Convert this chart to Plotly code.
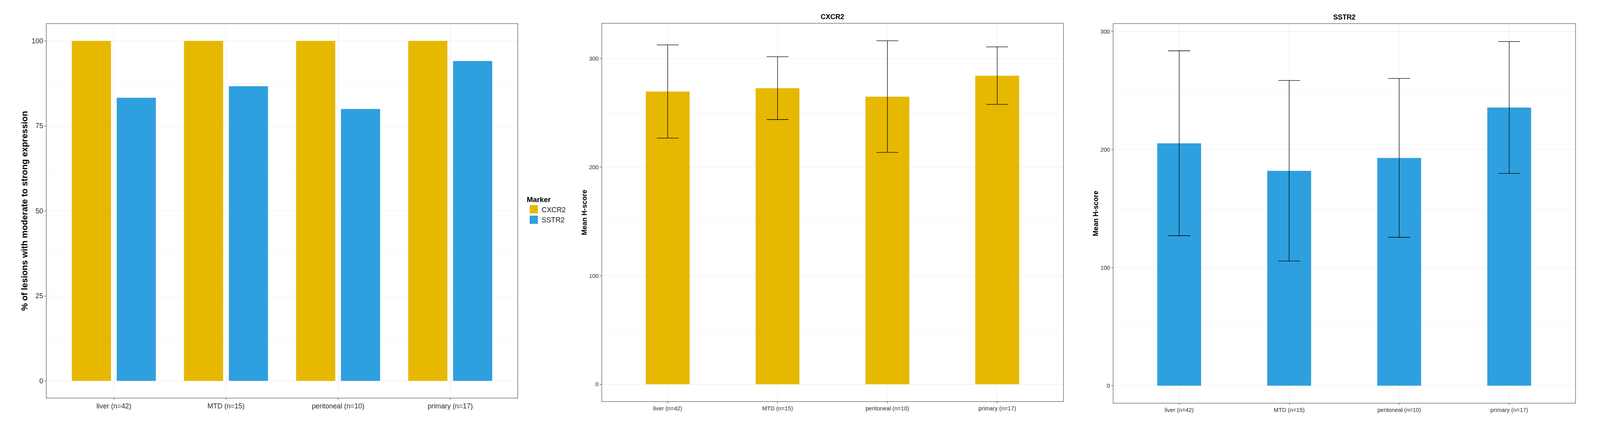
import plotly.graph_objects as go

# The photographed picture maps page CSS px to image px by ~1.0145, and the
# page body adds an 8px margin; positions below are given in picture px.
S = 1.0145
OFF = 8
W = round(4157 / S - OFF)
H = round(1136 / S - OFF)

categories = ["liver (n=42)", "MTD (n=15)", "peritoneal (n=10)", "primary (n=17)"]
markers = ["CXCR2", "SSTR2"]
pct_cxcr2 = [100, 100, 100, 100]
pct_sstr2 = [83.3, 86.7, 80.0, 94.1]
cxcr2_mean = [269.6, 272.7, 264.9, 284.2]
cxcr2_sd = [42.9, 28.9, 51.4, 26.5]
sstr2_mean = [205.4, 182.1, 193.0, 235.7]
sstr2_sd = [78.3, 76.5, 67.3, 55.8]

COL = {"CXCR2": "#E7B800", "SSTR2": "#2E9FDF"}
FONT = "Arial, Liberation Sans, sans-serif"
GRID = "#EBEBEB"
BORDER = "#333333"
TICKC = "#333333"


def c(p):
    return p / S - OFF


def fx(p):
    return c(p) / W


def fy(p):
    return 1 - c(p) / H


def px_x(a, b):
    return [fx(a), fx(b)]


def px_y(top, bottom):
    return [fy(bottom), fy(top)]


def fs(v):
    return v / S


fig = go.Figure()

fig.add_trace(go.Bar(x=categories, y=pct_cxcr2, name="CXCR2", marker_color=COL["CXCR2"],
                     width=0.35, offset=-0.375, showlegend=False, xaxis="x", yaxis="y"))
fig.add_trace(go.Bar(x=categories, y=pct_sstr2, name="SSTR2", marker_color=COL["SSTR2"],
                     width=0.35, offset=0.025, showlegend=False, xaxis="x", yaxis="y"))
for m in markers:
    fig.add_trace(go.Scatter(x=[None], y=[None], mode="markers", name=m,
                             marker=dict(symbol="square", size=16, color=COL[m],
                                         line=dict(color=COL[m], width=5)),
                             xaxis="x", yaxis="y", showlegend=True))

err = dict(type="data", color="black", thickness=1.3, width=fs(28.5))
fig.add_trace(go.Bar(x=categories, y=cxcr2_mean, marker_color=COL["CXCR2"], width=0.4,
                     error_y=dict(err, array=cxcr2_sd),
                     showlegend=False, xaxis="x2", yaxis="y2"))
fig.add_trace(go.Bar(x=categories, y=sstr2_mean, marker_color=COL["SSTR2"], width=0.4,
                     error_y=dict(err, array=sstr2_sd),
                     showlegend=False, xaxis="x3", yaxis="y3"))


def xax(domain, anchor, tsize):
    return dict(domain=domain, anchor=anchor, type="category", range=[-0.6, 3.6],
                showgrid=True, gridcolor=GRID, gridwidth=1.3,
                showline=True, linecolor=BORDER, linewidth=1.3, mirror=True,
                ticks="outside", ticklen=4, tickcolor=TICKC, tickwidth=1.3,
                tickfont=dict(size=fs(tsize), color="#333333", family=FONT),
                zeroline=False, fixedrange=True)


def yax(domain, anchor, rng, dtick, tsize):
    return dict(domain=domain, anchor=anchor, range=rng, dtick=dtick, tick0=0,
                showgrid=True, gridcolor=GRID, gridwidth=1.3,
                minor=dict(showgrid=True, gridcolor="#F3F3F3", gridwidth=1, dtick=dtick / 2, tick0=0),
                showline=True, linecolor=BORDER, linewidth=1.3, mirror=True,
                ticks="outside", ticklen=4, tickcolor=TICKC, tickwidth=1.3,
                tickfont=dict(size=fs(tsize), color="#333333", family=FONT),
                zeroline=False, fixedrange=True)


ax1x = xax(px_x(121, 1344), "y", 18)
ax2x = xax(px_x(1563, 2761), "y2", 15)
ax3x = xax(px_x(2891, 4091), "y3", 15)

ay1 = yax(px_y(62, 1033), "x", [-5, 105], 25, 18)
ay1["title"] = dict(text="<b>% of lesions with moderate to strong expression</b>",
                    font=dict(size=fs(22.5), color="black", family=FONT), standoff=4)
ay2 = yax(px_y(61, 1042), "x2", [-15.8, 332.2], 100, 15)
ay2["title"] = dict(text="<b>Mean H-score</b>", font=dict(size=fs(18), color="black", family=FONT), standoff=0)
ay3 = yax(px_y(62, 1046), "x3", [-14.6, 306.5], 100, 15)
ay3["title"] = dict(text="<b>Mean H-score</b>", font=dict(size=fs(18), color="black", family=FONT), standoff=0)

fig.update_layout(
    width=W, height=H,
    margin=dict(l=0, r=0, t=0, b=0),
    paper_bgcolor="white", plot_bgcolor="white",
    barmode="overlay",
    font=dict(family=FONT, color="black"),
    xaxis=ax1x, yaxis=ay1, xaxis2=ax2x, yaxis2=ay2, xaxis3=ax3x, yaxis3=ay3,
    legend=dict(x=fx(1366), y=fy(500), xanchor="left", yanchor="top",
                title=dict(text="<b>Marker</b>", font=dict(size=fs(19), color="black", family=FONT)),
                font=dict(size=fs(18.5), color="#222222", family=FONT),
                bgcolor="rgba(0,0,0,0)", tracegroupgap=0, itemwidth=30),
    annotations=[
        dict(text="<b>CXCR2</b>", x=fx((1563 + 2761) / 2), y=fy(44), xref="paper", yref="paper",
             xanchor="center", yanchor="middle", showarrow=False,
             font=dict(size=fs(18), color="black", family=FONT)),
        dict(text="<b>SSTR2</b>", x=fx((2891 + 4091) / 2), y=fy(45), xref="paper", yref="paper",
             xanchor="center", yanchor="middle", showarrow=False,
             font=dict(size=fs(18), color="black", family=FONT)),
    ],
)

fig.write_html("out.html")
